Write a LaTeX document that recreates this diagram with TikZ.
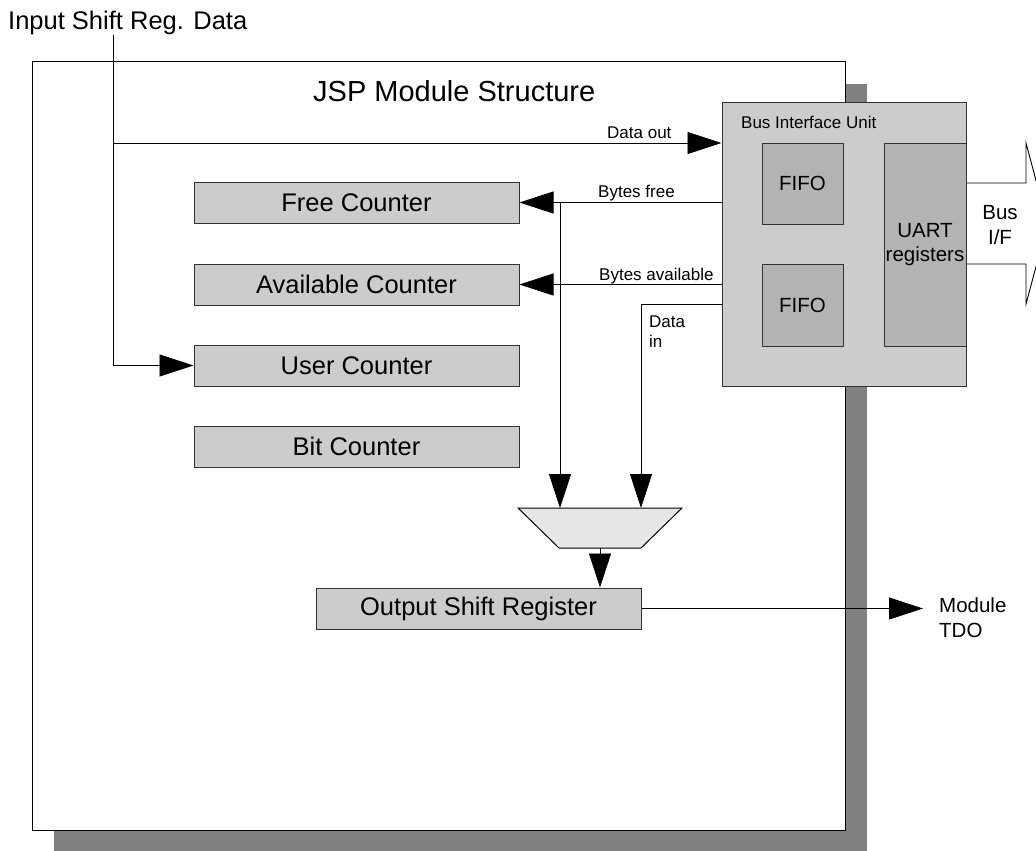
\documentclass[tikz,border=0pt]{standalone}
\usepackage{fontspec}
\setmainfont{Liberation Sans}
\usetikzlibrary{arrows.meta}
\definecolor{boxgray}{HTML}{CCCCCC}
\definecolor{innergray}{HTML}{B3B3B3}
\definecolor{muxgray}{HTML}{E6E6E6}
\definecolor{shadowgray}{HTML}{808080}
\definecolor{edgegray}{HTML}{333333}
\begin{document}
\begin{tikzpicture}[x=1pt,y=-1pt,
  counter/.style={draw=edgegray, line width=1pt, fill=boxgray, minimum width=325pt, minimum height=41pt, inner sep=0pt, font=\fontsize{25.5}{30}\selectfont},
  innerbox/.style={draw=edgegray, line width=1pt, fill=innergray, inner sep=0pt, font=\fontsize{20.5}{24}\selectfont},
  arr/.style={line width=0.9pt, -{Triangle[length=34pt,width=22pt]}},
  wire/.style={line width=0.9pt},
  small/.style={inner sep=0pt, font=\fontsize{17}{20}\selectfont},
  mid/.style={inner sep=0pt, font=\fontsize{20.5}{24}\selectfont},
  big/.style={inner sep=0pt, font=\fontsize{25.5}{30}\selectfont},
]
\useasboundingbox (0,0) rectangle (1036,851);

% module with shadow
\fill[shadowgray] (54,84) rectangle (867,851);
\node[draw=black, line width=1pt, fill=white, minimum width=813pt, minimum height=768pt, inner sep=0pt] (module) at (438.5,446) {};
\node[anchor=base west, inner sep=0pt, font=\fontsize{29}{34}\selectfont] (title) at (313,101) {JSP Module Structure};
\node[big, anchor=base west] (inlabel) at (8,30) {Input Shift Reg. Data};

% counters
\node[counter] (free) at (356.5,202.5) {Free Counter};
\node[counter] (avail) at (356.5,284.5) {Available Counter};
\node[counter] (user) at (356.5,365.5) {User Counter};
\node[counter] (bit) at (356.5,446.5) {Bit Counter};

% bus interface unit
\node[draw=edgegray, line width=1pt, fill=boxgray, minimum width=244pt, minimum height=284pt, inner sep=0pt] (biu) at (844,244) {};
\node[small, anchor=base west] (biulabel) at (741,128) {Bus Interface Unit};
\node[innerbox, minimum width=81pt, minimum height=81pt] (fifo1) at (802.5,183.5) {FIFO};
\node[innerbox, minimum width=81pt, minimum height=82pt] (fifo2) at (802.5,305) {FIFO};
\node[innerbox, minimum width=82pt, minimum height=203pt, align=center] (uart) at (925,244.5) {UART\\registers};

% mux (trapezoid) and output register
\coordinate (muxtl) at (518,508);
\coordinate (muxtr) at (682,508);
\coordinate (muxbr) at (641,548);
\coordinate (muxbl) at (559,548);
\coordinate (muxout) at (600,548);
\filldraw[draw=black, line width=1pt, fill=muxgray, line join=miter] (muxtl) -- (muxtr) -- (muxbr) -- (muxbl) -- cycle;
\node[counter] (osr) at (478.5,608.5) {Output Shift Register};

% coordinates
\coordinate (intop) at (113,35);
\coordinate (dj) at (113,143);
\coordinate (bfj) at (560,202.5);
\coordinate (dij) at (641,304);
\coordinate (tdoend) at (923,610);

% connectors
\draw[wire] (intop) -- (dj);
\draw[arr] (dj) |- (user.west);
\draw[arr] (dj) -- (dj -| biu.west);
\draw[arr] (bfj -| biu.west) -- (free.east);
\draw[arr] (bfj) -- (bfj |- muxtl);
\draw[arr] (biu.west |- avail.east) -- (avail.east);
\draw[arr] (dij -| biu.west) -- (dij) -- (dij |- muxtl);
\draw[arr] (muxout) -- (muxout |- osr.north);
\draw[arr] (osr.east) -- (osr.east -| tdoend);

% labels
\node[small, anchor=base west] (lout) at (607,138) {Data out};
\node[small, anchor=base west] (lfree) at (598,197) {Bytes free};
\node[small, anchor=base west] (lavail) at (599,280) {Bytes available};
\node[small, anchor=base west] (ldata) at (649,327) {Data};
\node[small, anchor=base west] (lin) at (649,347) {in};
\node[mid, anchor=base] (lbus) at (1000,219) {Bus};
\node[mid, anchor=base] (lif) at (1000,244) {I/F};
\node[mid, anchor=base west] (lmod) at (939,612) {Module};
\node[mid, anchor=base west] (ltdo) at (939,637) {TDO};

% bus arrow (clipped at the edge)
\begin{scope}
\clip (0,0) rectangle (1036,851);
\draw[wire] (uart.east |- 0,183) -- (1026,183) -- (1026,143) -- (1047.5,223.5) -- (1026,304) -- (1026,264) -- (uart.east |- 0,264);
\end{scope}
\end{tikzpicture}
\end{document}
